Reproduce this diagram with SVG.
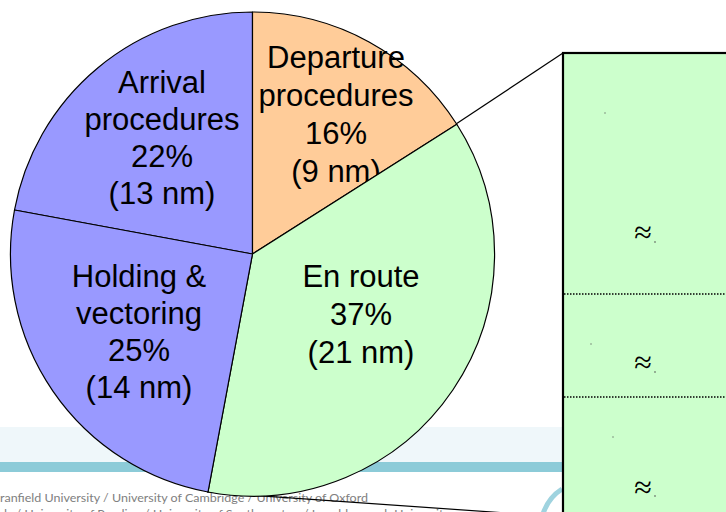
<svg xmlns="http://www.w3.org/2000/svg" width="726" height="512" viewBox="0 0 726 512">
<style>
.lbl{font-family:"Liberation Sans",Arial,sans-serif;font-size:31px;fill:#000;text-anchor:middle}
.sl{stroke:#000;stroke-width:1.2;stroke-linejoin:round}
.ft{font-family:Lato,"Open Sans",sans-serif;font-size:12px;fill:#808080}
.ap{font-family:"Liberation Serif","Times New Roman",serif;font-size:32px;fill:#000;text-anchor:middle}
.dt{fill:#7a8a7a}
</style>
<rect width="726" height="512" fill="#fff"/>
<g id="footer">
<rect x="0" y="427" width="726" height="35" fill="#eff7fa"/>
<rect x="0" y="462" width="726" height="10" fill="#8ccbd8"/>
<text class="ft" x="0" y="502" textLength="368" lengthAdjust="spacingAndGlyphs">ranfield University / University of Cambridge / University of Oxford</text>
<text class="ft" x="0" y="518" textLength="450" lengthAdjust="spacingAndGlyphs">ds / University of Reading / University of Southampton / Loughborough University</text>
<path d="M543,514 Q548,498 562,489" fill="none" stroke="#9fd3df" stroke-width="5"/>
</g>
<g id="connectors">
<line x1="456" y1="124" x2="563" y2="53" class="sl"/>
<line x1="207" y1="492" x2="563" y2="517" class="sl"/>
</g>
<g id="pie">
<g id="arrival">
<path d="M252.5,254 L14.5,210 A242,242 0 0 1 252.5,12 Z" fill="#9999ff" class="sl"/>
<text class="lbl" x="162" y="93">Arrival</text>
<text class="lbl" x="162" y="130">procedures</text>
<text class="lbl" x="162" y="167">22%</text>
<text class="lbl" x="162" y="204">(13 nm)</text>
</g>
<g id="departure">
<path d="M252.5,254 L252.5,12 A242,242 0 0 1 456.8,124.3 Z" fill="#ffcc99" class="sl"/>
<text class="lbl" x="336" y="68">Departure</text>
<text class="lbl" x="336" y="106">procedures</text>
<text class="lbl" x="336" y="144">16%</text>
<text class="lbl" x="336" y="182">(9 nm)</text>
</g>
<g id="enroute">
<path d="M252.5,254 L456.8,124.3 A242,242 0 0 1 208,492 Z" fill="#ccffcc" class="sl"/>
<text class="lbl" x="361" y="287">En route</text>
<text class="lbl" x="361" y="325">37%</text>
<text class="lbl" x="361" y="363">(21 nm)</text>
</g>
<g id="holding">
<path d="M252.5,254 L208,492 A242,242 0 0 1 14.5,210 Z" fill="#9999ff" class="sl"/>
<text class="lbl" x="139" y="287">Holding &amp;</text>
<text class="lbl" x="139" y="324">vectoring</text>
<text class="lbl" x="139" y="361">25%</text>
<text class="lbl" x="139" y="398">(14 nm)</text>
</g>
</g>
<g id="detail-box">
<rect x="563" y="53" width="200" height="480" fill="#ccffcc" stroke="#000" stroke-width="2.2"/>
<line x1="564" y1="294" x2="726" y2="294" stroke="#000" stroke-width="1.5" stroke-dasharray="1.5 1.5"/>
<line x1="564" y1="397" x2="726" y2="397" stroke="#000" stroke-width="1.5" stroke-dasharray="1.5 1.5"/>
<circle class="dt" cx="605" cy="113" r="0.8"/>
<circle class="dt" cx="591" cy="344" r="0.8"/>
<circle class="dt" cx="613" cy="437" r="0.8"/>
<text class="ap" x="643" y="243">≈</text>
<text class="ap" x="643" y="373">≈</text>
<text class="ap" x="643" y="498">≈</text>
<circle class="dt" cx="655" cy="242" r="0.9"/>
<circle class="dt" cx="655" cy="372" r="0.9"/>
<circle class="dt" cx="655" cy="496" r="0.9"/>
</g>
</svg>
